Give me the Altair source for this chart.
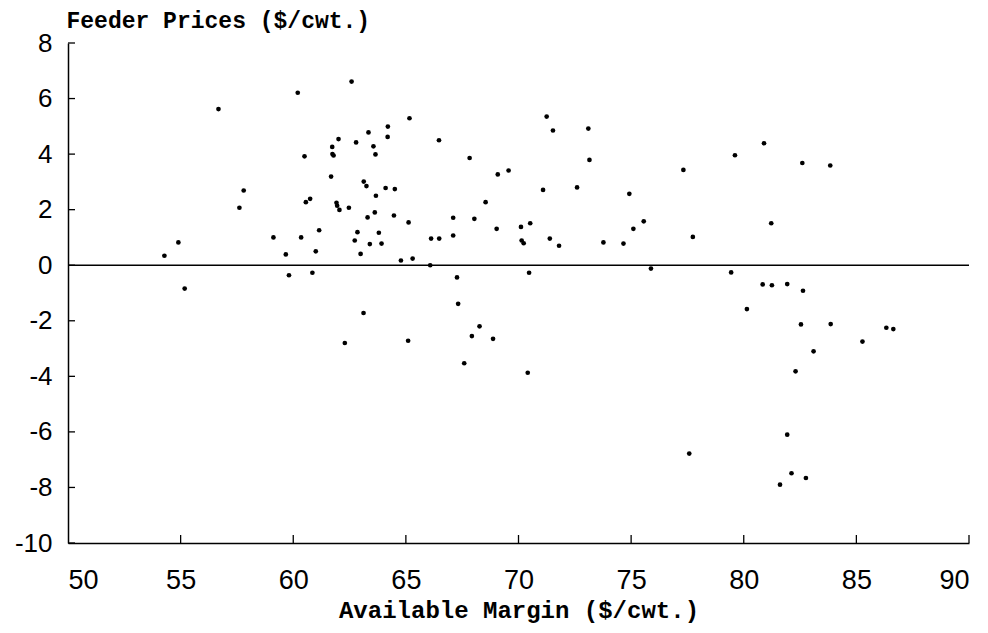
import altair as alt
import pandas as pd

# Available margin ($/cwt.)
margin = [54.28, 54.90, 55.18, 56.68, 57.61, 57.80, 59.12, 59.67, 59.81, 60.20,
          60.35, 60.50, 60.56, 60.75, 60.85, 61.00, 61.15, 61.68, 61.73, 61.74,
          61.79, 61.92, 61.95, 62.01, 62.05, 62.29, 62.47, 62.59, 62.73, 62.79,
          62.85, 62.99, 63.12, 63.13, 63.25, 63.30, 63.34, 63.40, 63.56, 63.62,
          63.65, 63.67, 63.80, 63.92, 64.10, 64.19, 64.20, 64.47, 64.51, 64.78,
          65.10, 65.12, 65.16, 65.30, 66.08, 66.12, 66.47, 66.48, 67.10, 67.10,
          67.27, 67.32, 67.59, 67.83, 67.93, 68.04, 68.27, 68.54, 68.87, 69.03,
          69.08, 69.56, 70.11, 70.14, 70.23, 70.41, 70.47, 70.52, 71.09, 71.25,
          71.39, 71.53, 71.80, 72.60, 73.10, 73.15, 73.77, 74.66, 74.92, 75.10,
          75.56, 75.88, 77.32, 77.58, 77.74, 79.44, 79.61, 80.14, 80.84, 80.90,
          81.22, 81.25, 81.61, 81.93, 81.93, 82.12, 82.30, 82.54, 82.60, 82.63,
          82.76, 83.10, 83.84, 83.86, 85.27, 86.33, 86.64]
# Feeder prices ($/cwt.)
feeder = [0.34, 0.82, -0.84, 5.62, 2.07, 2.69, 1.00, 0.39, -0.36, 6.21,
          1.00, 3.92, 2.27, 2.39, -0.27, 0.50, 1.26, 3.19, 4.26, 4.00,
          3.95, 2.25, 2.14, 4.54, 1.99, -2.80, 2.07, 6.61, 0.89, 4.42,
          1.19, 0.41, -1.72, 3.01, 2.85, 1.72, 4.78, 0.76, 4.28, 1.90,
          3.99, 2.50, 1.17, 0.78, 2.78, 4.62, 4.99, 1.79, 2.74, 0.17,
          -2.72, 1.54, 5.29, 0.24, 0.00, 0.96, 4.50, 0.96, 1.71, 1.07,
          -0.44, -1.39, -3.53, 3.86, -2.55, 1.67, -2.20, 2.27, -2.65, 1.31,
          3.27, 3.41, 1.38, 0.89, 0.79, -3.87, -0.27, 1.51, 2.71, 5.35,
          0.96, 4.85, 0.70, 2.80, 4.92, 3.79, 0.82, 0.78, 2.57, 1.31,
          1.58, -0.12, 3.43, -6.78, 1.02, -0.26, 3.96, -1.58, -0.69, 4.39,
          1.51, -0.72, -7.90, -0.68, -6.10, -7.49, -3.82, -2.13, 3.68, -0.92,
          -7.66, -3.10, 3.59, -2.12, -2.75, -2.25, -2.30]

x_ticks = [50, 55, 60, 65, 70, 75, 80, 85, 90]
y_ticks = [-10, -8, -6, -4, -2, 0, 2, 4, 6, 8]

W, H = 901, 500
TITLE_FONT = "Liberation Mono"
LABEL_FONT = "Liberation Sans"

df = pd.DataFrame({"margin": margin, "feeder": feeder})
xt = pd.DataFrame({"v": x_ticks[1:]})
yt = pd.DataFrame({"v": y_ticks})

xs = alt.Scale(domain=[50, 90], nice=False, zero=False)
ys = alt.Scale(domain=[-10, 8], nice=False, zero=False)

points = alt.Chart(df).mark_circle(size=22, color="black", opacity=1).encode(
    x=alt.X("margin:Q", scale=xs,
            axis=alt.Axis(values=x_ticks, title="Available Margin ($/cwt.)",
                          ticks=False, grid=False, domainColor="black", domainWidth=1.5,
                          labelFont=LABEL_FONT, labelFontSize=27, labelColor="black",
                          labelBaseline="middle", labelPadding=37,
                          labelExpr="datum.value + ''",
                          titleFont=TITLE_FONT, titleFontSize=24,
                          titleFontWeight="bold", titleColor="black",
                          titleBaseline="middle", titleY=67)),
    y=alt.Y("feeder:Q", scale=ys,
            axis=alt.Axis(values=y_ticks, title="Feeder Prices ($/cwt.)",
                          ticks=False, grid=False, domainColor="black", domainWidth=1.5,
                          labelFont=LABEL_FONT, labelFontSize=26, labelColor="black",
                          labelPadding=16, labelExpr="datum.value + ''",
                          titleFont=TITLE_FONT, titleFontSize=23,
                          titleFontWeight="bold", titleColor="black", titleAngle=0,
                          titleAlign="left", titleBaseline="middle", titleX=-2, titleY=-23)),
)

zero_line = alt.Chart(pd.DataFrame({"z": [0]})).mark_rule(color="black", strokeWidth=1.4).encode(
    y=alt.Y("z:Q", scale=ys), x=alt.value(0), x2=alt.value(W)
)

x_tick_marks = alt.Chart(xt).mark_rule(color="black", strokeWidth=1.3).encode(
    x=alt.X("v:Q", scale=xs), y=alt.value(H), y2=alt.value(H - 8)
)

y_tick_marks = alt.Chart(yt).mark_rule(color="black", strokeWidth=1.3).encode(
    y=alt.Y("v:Q", scale=ys), x=alt.value(0), x2=alt.value(7)
)

chart = alt.layer(zero_line, x_tick_marks, y_tick_marks, points).properties(
    width=W, height=H,
    padding={"left": 68, "top": 43, "right": 19, "bottom": 90},
    autosize="none",
    background="white",
).configure_view(stroke=None, strokeWidth=0)

chart.save("out.html", embed_options={"renderer": "svg", "actions": False})
